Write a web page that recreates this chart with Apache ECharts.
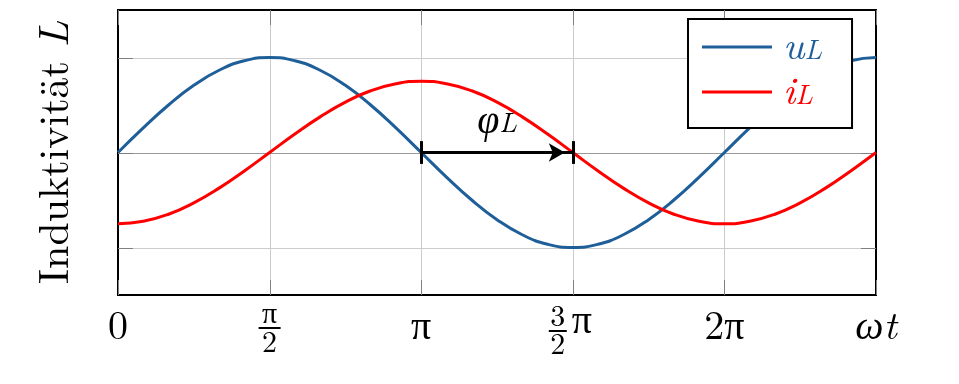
<!DOCTYPE html>
<html><head><meta charset="utf-8">
<script src="https://cdn.jsdelivr.net/npm/echarts@6/dist/echarts.min.js"></script>
<style>html,body{margin:0;background:#fff}#c{width:959px;height:384px}</style>
</head><body><div id="c"></div>
<script>
// angle in degrees (ωt), sampled every 15°
const angles = [0,15,30,45,60,75,90,105,120,135,150,165,180,195,210,225,240,255,270,285,300,315,330,345,360,375,390,405,420,435,450];
const uL = [0,0.259,0.5,0.707,0.866,0.966,1,0.966,0.866,0.707,0.5,0.259,0,-0.259,-0.5,-0.707,-0.866,-0.966,-1,-0.966,-0.866,-0.707,-0.5,-0.259,0,0.259,0.5,0.707,0.866,0.966,1];
const iL = [-0.75,-0.724,-0.65,-0.53,-0.375,-0.194,0,0.194,0.375,0.53,0.65,0.724,0.75,0.724,0.65,0.53,0.375,0.194,0,-0.194,-0.375,-0.53,-0.65,-0.724,-0.75,-0.724,-0.65,-0.53,-0.375,-0.194,0];
const tickLabels = {
  0: '{r|0}',
  90: '{n|π}\n{b| }\n{d|2}',
  180: '{r|π}',
  270: '{n3|3}{p|π}\n{b3| }{g| }\n{d3|2}{g| }',
  360: '{r|2π}',
  450: '{w|ωt}'
};
const xTicks = [0, 90, 180, 270, 360, 450];
const gridX = [90, 180, 270, 360];
const gridY = [-1, 1];
const yTicks = [-1, 0, 1];
const phase = [180, 270];
const barHalf = 0.12;

const F = '"Latin Modern Roman", "CMU Serif", serif';
const BLUE = '#1f5f99', RED = '#ff0000';
const TICK = '#808080', GRID = '#cccccc', ZERO = '#9a9a9a';
const TICK_LEN = 15;

const pairs = (xs, ys) => xs.map((x, i) => [x, ys[i]]);

const option = {
  animation: false,
  backgroundColor: '#fff',
  grid: {left: 118, right: 83, top: 10, bottom: 89, show: true, borderColor: '#000', borderWidth: 2, backgroundColor: 'transparent'},
  xAxis: {
    type: 'value', min: 0, max: 450, interval: 90, position: 'bottom',
    axisLine: {show: false}, splitLine: {show: false}, axisTick: {show: false},
    axisLabel: {
      show: true, margin: 12, showMinLabel: true, showMaxLabel: true,
      fontFamily: F, fontSize: 40, color: '#000',
      formatter: v => tickLabels[v] || '',
      rich: {
        r: {fontFamily: F, fontSize: 40, lineHeight: 40, color: '#000'},
        w: {fontFamily: F, fontSize: 40, lineHeight: 40, fontStyle: 'italic', color: '#000'},
        n: {fontFamily: F, fontSize: 30, lineHeight: 14, color: '#000'},
        b: {width: 22, height: 2, lineHeight: 14, fontSize: 1, backgroundColor: '#000'},
        d: {fontFamily: F, fontSize: 30, lineHeight: 16, color: '#000'},
        n3: {fontFamily: F, fontSize: 30, lineHeight: 19, width: 18, align: 'center', color: '#000'},
        p: {fontFamily: F, fontSize: 40, lineHeight: 10, width: 30, align: 'center', color: '#000', padding: [8, 0, 0, 0]},
        b3: {width: 18, height: 2, lineHeight: 10, fontSize: 1, backgroundColor: '#000'},
        d3: {fontFamily: F, fontSize: 30, lineHeight: 18, width: 18, align: 'center', color: '#000'},
        g: {width: 30, fontSize: 1}
      }
    }
  },
  yAxis: {
    type: 'value', min: -1.5, max: 1.5, position: 'left',
    axisLine: {show: false}, splitLine: {show: false}, axisTick: {show: false},
    axisLabel: {show: false},
    name: '{a|Induktivität }{b|L}',
    nameLocation: 'middle', nameRotate: 90, nameGap: 42,
    nameTextStyle: {
      fontFamily: F, fontSize: 42, color: '#000',
      rich: {
        a: {fontFamily: F, fontSize: 42, color: '#000'},
        b: {fontFamily: F, fontSize: 42, fontStyle: 'italic', color: '#000'}
      }
    }
  },
  legend: {
    orient: 'vertical', left: 688, top: 19,
    backgroundColor: '#fff', borderColor: '#000', borderWidth: 2,
    padding: [8, 30, 16, 14], itemGap: 5,
    itemWidth: 70, itemHeight: 3, icon: 'rect',
    data: ['uL', 'iL'],
    formatter: name => name === 'uL' ? '{mu|u}{su|L}' : '{mi|i}{si|L}',
    textStyle: {
      fontFamily: F, fontSize: 40,
      rich: {
        mu: {fontFamily: F, fontSize: 40, lineHeight: 34, fontStyle: 'italic', color: BLUE, padding: [0, 0, 0, 6]},
        su: {fontFamily: F, fontSize: 28, lineHeight: 12, fontStyle: 'italic', color: BLUE, verticalAlign: 'bottom'},
        mi: {fontFamily: F, fontSize: 40, lineHeight: 34, fontStyle: 'italic', color: RED, padding: [0, 0, 0, 6]},
        si: {fontFamily: F, fontSize: 28, lineHeight: 12, fontStyle: 'italic', color: RED, verticalAlign: 'bottom'}
      }
    }
  },
  series: [
    {
      type: 'line', name: 'uL', data: pairs(angles, uL), smooth: true, showSymbol: false, z: 3,
      color: BLUE, lineStyle: {color: BLUE, width: 3}
    },
    {
      type: 'line', name: 'iL', data: pairs(angles, iL), smooth: true, showSymbol: false, z: 3,
      color: RED, lineStyle: {color: RED, width: 3}
    },
    {
      type: 'line', name: 'phaseBars', data: [], z: 4, silent: true,
      markLine: {
        z: 6, silent: true, symbol: 'none', animation: false, label: {show: false},
        lineStyle: {color: '#000', width: 3, type: 'solid'},
        data: phase.map(x => [{coord: [x, -barHalf]}, {coord: [x, barHalf]}])
      }
    },
    {
      type: 'line', name: 'phaseArrow', data: [], z: 4, silent: true,
      markLine: {
        z: 6, silent: true, animation: false,
        symbol: ['none', 'arrow'], symbolSize: [14, 16], symbolOffset: [[0, 0], [0, 8]],
        lineStyle: {color: '#000', width: 3, type: 'solid'},
        label: {
          show: true, position: 'middle', distance: 15,
          fontFamily: F, fontSize: 40,
          formatter: '{p|φ}{s|L}',
          rich: {
            p: {fontFamily: F, fontSize: 40, lineHeight: 34, fontStyle: 'italic', color: '#000'},
            s: {fontFamily: F, fontSize: 28, lineHeight: 12, fontStyle: 'italic', color: '#000', verticalAlign: 'bottom'}
          }
        },
        itemStyle: {color: '#000'},
        data: [[{coord: [phase[0], 0]}, {coord: [phase[1], 0]}]]
      }
    }
  ]
};
const chart = echarts.init(document.getElementById('c'), null, {renderer: 'canvas'});
chart.setOption(option);

// grid lines and inside tick marks, placed through the chart's own scales
function drawGrid() {
  const px = v => chart.convertToPixel({xAxisIndex: 0}, v);
  const py = v => chart.convertToPixel({yAxisIndex: 0}, v);
  const x0 = px(0), x1 = px(450), yT = py(1.5), yB = py(-1.5);
  const els = [];
  const g = {stroke: GRID, lineWidth: 1};
  const t = {stroke: TICK, lineWidth: 1};
  gridX.forEach(v => { const x = Math.round(px(v)) + 0.5; els.push({type: 'line', silent: true, z: 1, shape: {x1: x, y1: yT, x2: x, y2: yB}, style: g}); });
  gridY.forEach(v => { const y = Math.round(py(v)) + 0.5; els.push({type: 'line', silent: true, z: 1, shape: {x1: x0, y1: y, x2: x1, y2: y}, style: g}); });
  { const y = Math.round(py(0)) + 0.5; els.push({type: 'line', silent: true, z: 1, shape: {x1: x0, y1: y, x2: x1, y2: y}, style: {stroke: ZERO, lineWidth: 1.2}}); }
  xTicks.forEach(v => {
    const x = Math.round(px(v)) + 0.5;
    els.push({type: 'line', silent: true, z: 2, shape: {x1: x, y1: yB, x2: x, y2: yB - TICK_LEN}, style: t});
    els.push({type: 'line', silent: true, z: 2, shape: {x1: x, y1: yT, x2: x, y2: yT + TICK_LEN}, style: t});
  });
  yTicks.forEach(v => {
    const y = Math.round(py(v)) + 0.5;
    els.push({type: 'line', silent: true, z: 2, shape: {x1: x0, y1: y, x2: x0 + TICK_LEN, y2: y}, style: t});
    els.push({type: 'line', silent: true, z: 2, shape: {x1: x1, y1: y, x2: x1 - TICK_LEN, y2: y}, style: t});
  });
  chart.setOption({graphic: {elements: els}});
}
drawGrid();
</script></body></html>
